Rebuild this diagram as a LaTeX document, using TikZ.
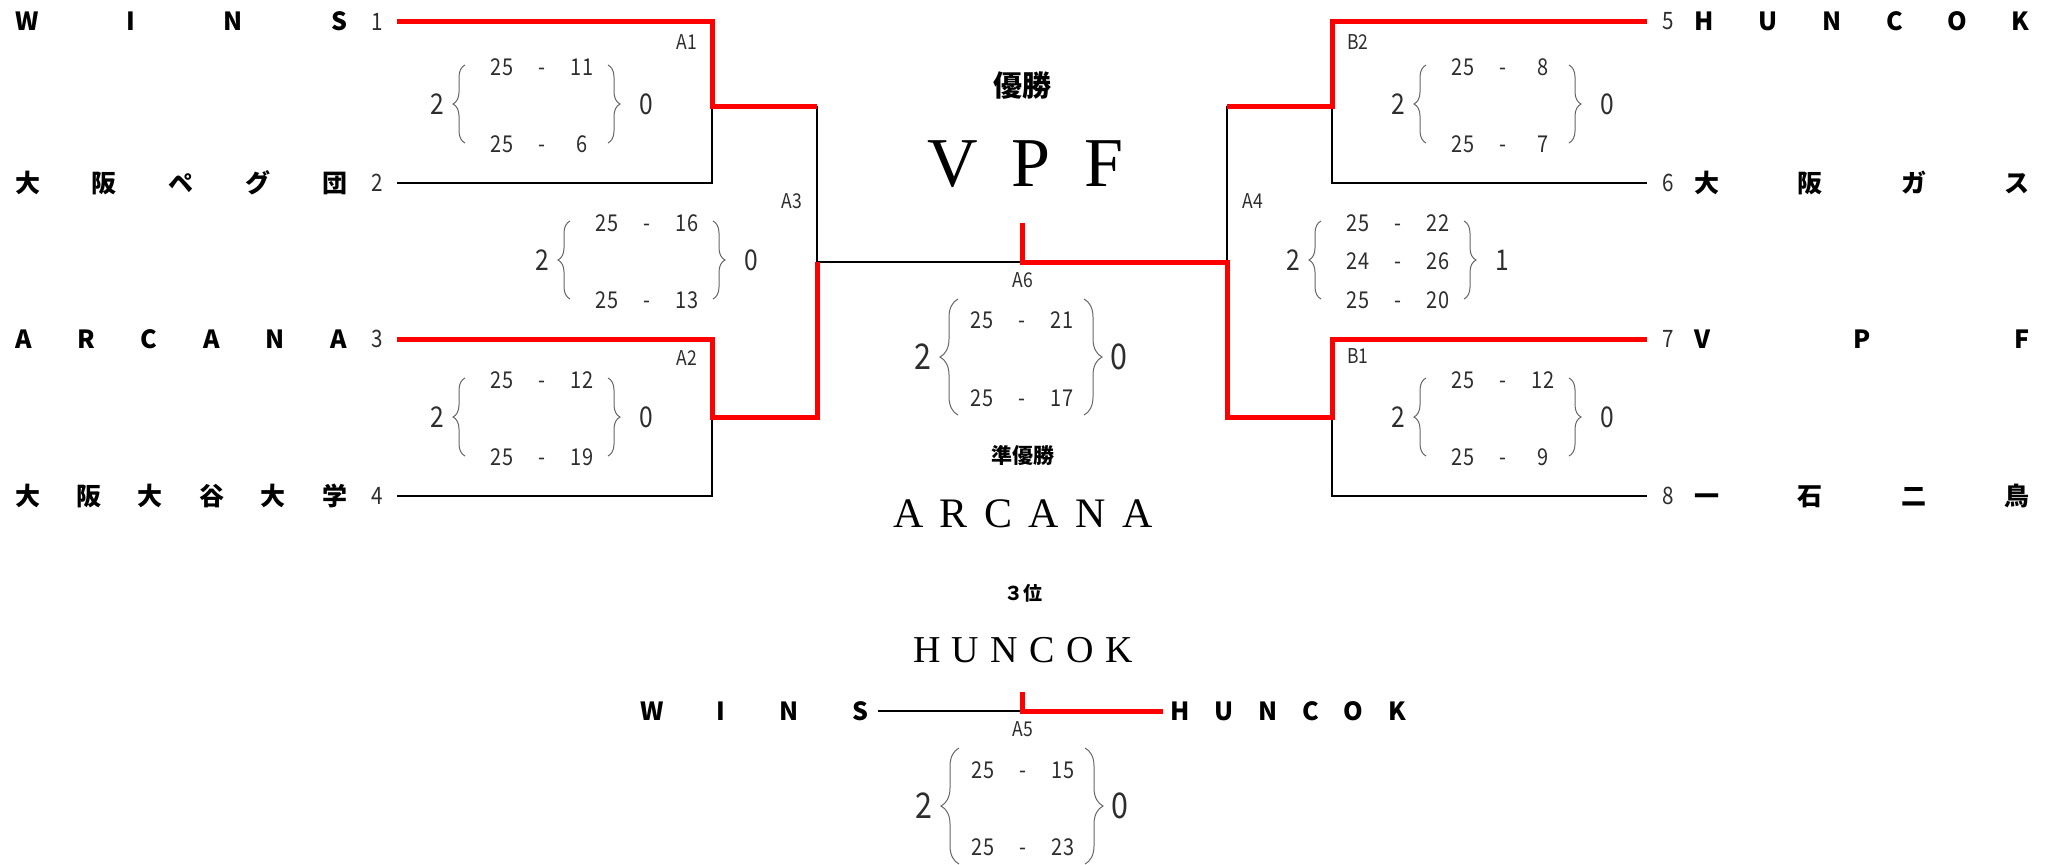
\documentclass[tikz,border=0pt]{standalone}
\usepackage{fontspec}
\usetikzlibrary{decorations.pathreplacing}
\setmainfont{Liberation Serif}
\newfontfamily\jpfont{Noto Sans CJK JP}
\newfontfamily\numfont[FakeStretch=0.86]{Noto Sans CJK JP}
\definecolor{ink}{RGB}{45,45,45}

% letters spread over a given width
\newcommand\spread[2]{\makebox[#1]{#2}}

% set scores of one match: name, centre, sets won left/right, rows a/b/y
\newcommand\setscore[6][small score]{%
  \begin{scope}[shift={(#3)}, #1]
    \node[sets] (#2-l) at (-\setl,0) {#4};
    \node[sets] (#2-r) at (\setr,0) {#5};
    \draw[brc] (-\bracel,\braceh) -- (-\bracel,-\braceh);
    \draw[brc] (\bracer,-\braceh) -- (\bracer,\braceh);
    \foreach \a/\b/\rowy [count=\k] in {#6} {
      \node[pts] (#2-a\k) at (-40,\rowy) {\a};
      \node[pts] (#2-m\k) at (0,\rowy) {\vphantom{0}-};
      \node[pts] (#2-b\k) at (40,\rowy) {\b};
    }
  \end{scope}}

\begin{document}
\begin{tikzpicture}[x=0.5pt, y=-0.5pt,
  team/.style={font=\jpfont\bfseries\fontsize{12.5}{14}\selectfont, inner sep=0pt},
  seed/.style={font=\numfont\fontsize{12}{14}\selectfont, text=ink, inner sep=0pt},
  tag/.style={font=\numfont\fontsize{10.2}{12}\selectfont, text=ink, inner sep=0pt},
  pts/.style={font=\numfont\fontsize{11.6}{13}\selectfont, text=ink, inner sep=0pt},
  sets/.style={font=\numfont\fontsize{\setsize}{\setsize}\selectfont, text=ink,
               inner sep=0pt},
  brc/.style={draw=black!60, line width=0.5pt, decorate,
              decoration={brace, amplitude=\bamp}},
  small score/.code={\def\setl{105}\def\setr{104}\def\bracel{77}\def\bracer{66}%
                     \def\braceh{39}\def\setsize{14.3}\def\bamp{6pt}},
  big score/.code={\def\setl{99}\def\setr{97}\def\bracel{64}\def\bracer{62}%
                   \def\braceh{58}\def\setsize{17.7}\def\bamp{9pt}},
  win/.style={draw=red, line width=2.5pt},
  lose/.style={draw=black, line width=1pt},
  head/.style={font=\jpfont\bfseries\fontsize{#1}{#1}\selectfont, inner sep=0pt},
  champ/.style={font=\fontsize{#1}{#1}\selectfont, inner sep=0pt}
]
  \useasboundingbox (0,0) rectangle (2054,864);

  % Teams and seeds
  \foreach \i/\y/\nm in {1/21.5/{W\hfill I\hfill N\hfill S},
      2/183/{大\hfill 阪\hfill ペ\hfill グ\hfill 団},
      3/339/{A\hfill R\hfill C\hfill A\hfill N\hfill A},
      4/496/{大\hfill 阪\hfill 大\hfill 谷\hfill 大\hfill 学}} {
    \node[team] (t\i) at (181,\y) {\spread{166pt}{\nm}};
    \node[seed] (n\i) at (377,\y) {\i};
    \coordinate (p\i) at (397,\y);
  }
  \foreach \i/\y/\nm in {5/21.5/{H\hfill U\hfill N\hfill C\hfill O\hfill K},
      6/183/{大\hfill 阪\hfill ガ\hfill ス},
      7/339/{V\hfill P\hfill F},
      8/496/{一\hfill 石\hfill 二\hfill 鳥}} {
    \node[team] (t\i) at (1862,\y) {\spread{167.5pt}{\nm}};
    \node[seed] (n\i) at (1668,\y) {\i};
    \coordinate (p\i) at (1647,\y);
  }

  % Third place teams
  \node[team] (w3) at (754,711) {\spread{114pt}{W\hfill I\hfill N\hfill S}};
  \node[team] (h3) at (1288,711) {\spread{118pt}{H\hfill U\hfill N\hfill C\hfill O\hfill K}};

  % Junctions
  \coordinate (A1) at (712,106);
  \coordinate (A2) at (712,417);
  \coordinate (A3) at (817,262);
  \coordinate (A6) at (1022,262);
  \coordinate (A6t) at (1022,223);
  \coordinate (A4) at (1227,262);
  \coordinate (B2) at (1332,106);
  \coordinate (B1) at (1332,417);
  \coordinate (A5) at (1022,711);
  \coordinate (A5t) at (1022,692);

  % Lost paths
  \draw[lose] (p2) -| (A1);
  \draw[lose] (p4) -| (A2);
  \draw[lose] (A1 -| A3) -- (A3) -- (A6);
  \draw[lose] (A4 |- B2) -- (A4);
  \draw[lose] (B2) |- (p6);
  \draw[lose] (B1) |- (p8);
  \draw[lose] ([xshift=5pt]w3.east) -- (A5);

  % Winners
  \draw[win] (p1) -| (A1) -- (A1 -| A3);
  \draw[win] (p3) -| (A2) -- (A2 -| A3) -- (A3);
  \draw[win] (p5) -| (B2) -- (A4 |- B2);
  \draw[win] (A6t) -- (A6) -| (A4 |- B1) -- (B1) |- (p7);
  \draw[win] (A5t) -- (A5) -- ([xshift=-3.5pt]h3.west);

  % Set scores
  \setscore{sA1}{542,104}{2}{0}{25/11/-37, 25/6/40}
  \setscore{sA3}{647,260}{2}{0}{25/16/-37, 25/13/40}
  \setscore{sA2}{542,417}{2}{0}{25/12/-37, 25/19/40}
  \setscore{sB2}{1503,104}{2}{0}{25/8/-37, 25/7/40}
  \setscore{sA4}{1398,260}{2}{1}{25/22/-37, 24/26/1, 25/20/40}
  \setscore{sB1}{1503,417}{2}{0}{25/12/-37, 25/9/40}
  \setscore[big score]{sA6}{1022,357}{2}{0}{25/21/-37, 25/17/41}
  \setscore[big score]{sA5}{1023,806}{2}{0}{25/15/-36, 25/23/41}

  % Match numbers
  \foreach \m/\x/\y in {A1/687/42, A2/687/358, A3/792/201, A4/1253/201,
                        B2/1358/42, B1/1358/356, A6/1023/280, A5/1023/729}
    \node[tag] (m\m) at (\x,\y) {\m};

  % Titles
  \node[head=14.5] (first) at (1022,86) {優勝};
  \node[champ=35] (winner) at (1025,164) {\spread{98pt}{V\hfill P\hfill F}};
  \node[head=10.5] (second) at (1023,456) {準優勝};
  \node[champ=21] (runner) at (1023,514)
    {\spread{130pt}{A\hfill R\hfill C\hfill A\hfill N\hfill A}};
  \node[head=9.5] (third) at (1023,593) {３位};
  \node[champ=19] (bronze) at (1023,650)
    {\spread{110pt}{H\hfill U\hfill N\hfill C\hfill O\hfill K}};
\end{tikzpicture}
\end{document}
